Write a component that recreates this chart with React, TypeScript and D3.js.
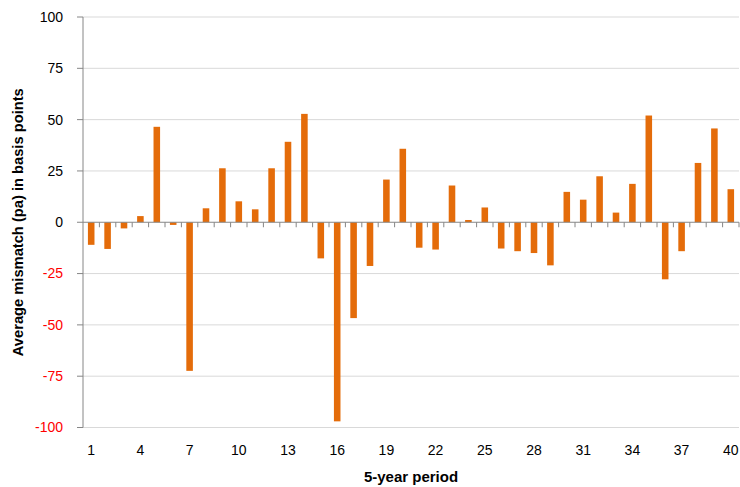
import React from "react";
import * as d3 from "d3";

const periods: number[] = Array.from({ length: 40 }, (_, i) => i + 1);
const mismatch: number[] = [
  -11, -13, -3, 3, 46.5, -1.3, -72.4, 6.8, 26.3, 10.2,
  6.3, 26.3, 39.2, 52.8, -17.6, -97, -46.7, -21.3, 20.8, 35.8,
  -12.4, -13.3, 17.9, 1.1, 7.2, -12.8, -14.1, -15, -21, 14.8,
  11, 22.4, 4.7, 18.7, 52, -27.8, -14.1, 28.9, 45.7, 16.1,
];
const yTicks: number[] = [-100, -75, -50, -25, 0, 25, 50, 75, 100];
const xTickLabels: number[] = [1, 4, 7, 10, 13, 16, 19, 22, 25, 28, 31, 34, 37, 40];

const W = 740;
const H = 487;
const left = 83;
const right = 739;
const top = 17;
const bottom = 427.5;
const font = "'Liberation Sans', Arial, sans-serif";

export default function App() {
  const x = d3
    .scaleBand<number>()
    .domain(periods)
    .range([left, right])
    .paddingInner(0.6)
    .paddingOuter(0.3);
  const xb = d3.scaleBand<number>().domain(periods).range([left, right]);
  const y = d3.scaleLinear().domain([-100, 100]).range([bottom, top]);
  const y0 = y(0);

  return (
    <svg
      width={W}
      height={H}
      style={{ position: "absolute", left: 0, top: 0, background: "#fff" }}
      fontFamily={font}
    >
      {yTicks.map((t) => (
        <g key={t}>
          {t !== 0 && (
            <line x1={left} x2={right} y1={y(t)} y2={y(t)} stroke="#d9d9d9" strokeWidth={1} />
          )}
          <line x1={left - 6} x2={left} y1={y(t)} y2={y(t)} stroke="#868686" strokeWidth={1} />
          <text
            x={63}
            y={y(t)}
            dy="0.35em"
            textAnchor="end"
            fontSize={14}
            fill={t < 0 ? "#ff0000" : "#000"}
          >
            {t}
          </text>
        </g>
      ))}
      <line x1={left} x2={left} y1={top} y2={bottom} stroke="#868686" strokeWidth={1} />
      {mismatch.map((v, i) => {
        const p = periods[i];
        const yv = y(v);
        return (
          <rect
            key={p}
            x={x(p)!}
            width={x.bandwidth()}
            y={Math.min(yv, y0)}
            height={Math.abs(yv - y0)}
            fill="#E46C0A"
          />
        );
      })}
      <line x1={left} x2={right} y1={y0} y2={y0} stroke="#868686" strokeWidth={1} />
      {periods.map((p) => (
        <line
          key={p}
          x1={xb(p)! + xb.bandwidth()}
          x2={xb(p)! + xb.bandwidth()}
          y1={y0}
          y2={y0 + 5}
          stroke="#868686"
          strokeWidth={1}
        />
      ))}
      {xTickLabels.map((p) => (
        <text
          key={p}
          x={xb(p)! + xb.bandwidth() / 2}
          y={455}
          textAnchor="middle"
          fontSize={14}
          fill="#000"
        >
          {p}
        </text>
      ))}
      <text
        x={(left + right) / 2}
        y={482}
        textAnchor="middle"
        fontSize={15}
        fontWeight="bold"
        fill="#000"
      >
        5-year period
      </text>
      <text
        transform={`translate(23, ${(top + bottom) / 2}) rotate(-90)`}
        textAnchor="middle"
        fontSize={14.7}
        fontWeight="bold"
        fill="#000"
      >
        Average mismatch (pa) in basis points
      </text>
    </svg>
  );
}
